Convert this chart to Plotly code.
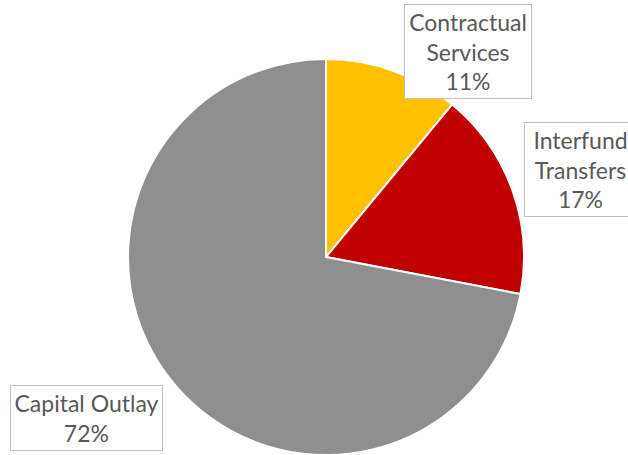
import plotly.graph_objects as go

# Expenditure categories and their shares
categories = ["Contractual Services", "Interfund Transfers", "Capital Outlay"]
label_lines = ["Contractual<br>Services", "Interfund<br>Transfers", "Capital Outlay"]
values = [11, 17, 72]
colors = ["#FFC000", "#C00000", "#8F8F8F"]

W, H = 628, 455

fig = go.Figure(
    go.Pie(
        labels=categories,
        values=values,
        sort=False,
        direction="clockwise",
        rotation=0,
        marker=dict(colors=colors, line=dict(color="white", width=2)),
        textinfo="none",
        hoverinfo="label+percent",
        showlegend=False,
        domain=dict(x=[128 / W, 524 / W], y=[0, 396 / H]),
    )
)

# Callout boxes: (left, top, width, height) in pixels
boxes = [(404, 4, 128, 95), (524, 122, 113, 95), (10, 385, 153, 66)]
total = sum(values)
for lines, v, (bx, by, bw, bh) in zip(label_lines, values, boxes):
    pct = round(100 * v / total)
    fig.add_annotation(
        xref="paper", yref="paper",
        x=bx / W, y=1 - by / H,
        xanchor="left", yanchor="top",
        text=f"{lines}<br>{pct}%",
        showarrow=False,
        align="center",
        valign="middle",
        width=bw - 2, height=bh - 2,
        bgcolor="white",
        bordercolor="#BFBFBF",
        borderwidth=1,
        borderpad=0,
        font=dict(family="Lato", size=23, color="#595959"),
    )

fig.update_layout(
    width=W, height=H,
    margin=dict(l=0, r=0, t=0, b=0),
    paper_bgcolor="white",
    plot_bgcolor="white",
)

fig.write_html("out.html")
